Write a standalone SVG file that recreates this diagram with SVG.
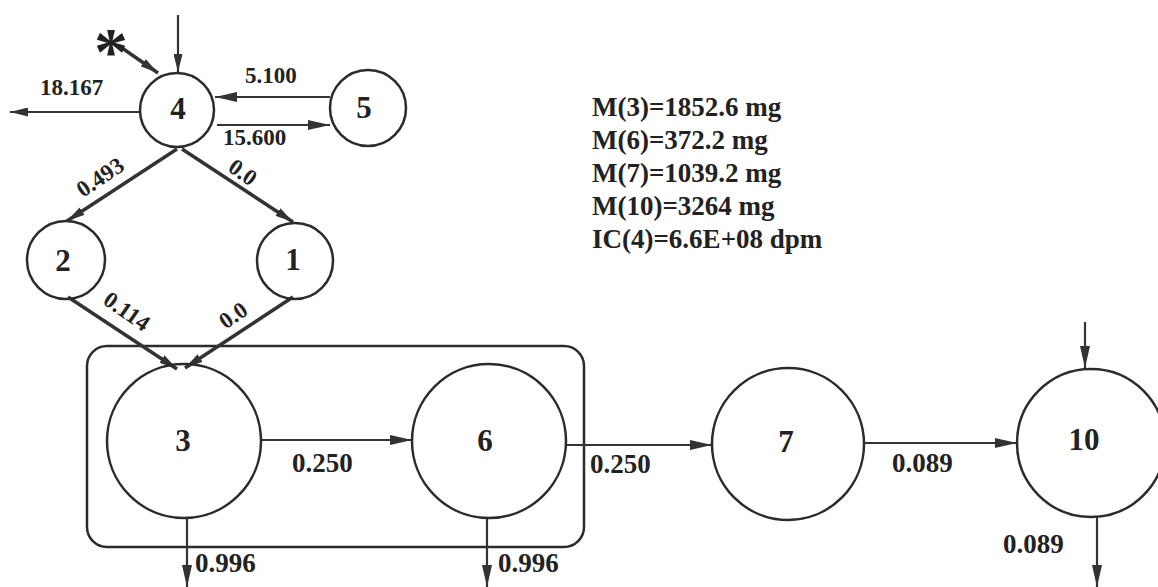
<svg xmlns="http://www.w3.org/2000/svg" width="1158" height="587" viewBox="0 0 1158 587">
<style>
.n{fill:none;stroke:#2b2b2b;stroke-width:2.5}
.t{font-family:"Liberation Serif","Times New Roman",serif;font-weight:bold;fill:#222}
.nl{font-size:31px;text-anchor:middle}
.el{font-size:27px}
.sl{font-size:23px}
.e{fill:none;stroke:#333;stroke-width:2.2}
.ed{fill:none;stroke:#333;stroke-width:3.5}
</style>
<defs>
<marker id="a" viewBox="0 0 18 9" refX="18" refY="4.5" markerWidth="18" markerHeight="9" markerUnits="userSpaceOnUse" orient="auto">
<path d="M0,0 L18,4.5 L0,9 z" fill="#333"/>
</marker>
<marker id="b" viewBox="0 0 22 10" refX="22" refY="5" markerWidth="22" markerHeight="10" markerUnits="userSpaceOnUse" orient="auto">
<path d="M0,0 L22,5 L0,10 z" fill="#333"/>
</marker>
</defs>
<rect x="87" y="346" width="497" height="201" rx="20" class="n"/>
<g id="connectors">
<line class="e" x1="178" y1="15" x2="178" y2="72" marker-end="url(#a)"/>
<line class="ed" x1="122" y1="48" x2="158" y2="73" marker-end="url(#a)"/>
<line class="e" x1="140" y1="112" x2="10" y2="112" marker-end="url(#a)"/>
<line class="e" x1="330" y1="97" x2="215" y2="97" marker-end="url(#b)"/>
<line class="e" x1="217" y1="125" x2="330" y2="125" marker-end="url(#b)"/>
<line class="ed" x1="177" y1="149" x2="67" y2="221" marker-end="url(#a)"/>
<line class="ed" x1="182" y1="149" x2="293" y2="222" marker-end="url(#a)"/>
<line class="ed" x1="68" y1="297" x2="177" y2="369" marker-end="url(#a)"/>
<line class="ed" x1="293" y1="297" x2="185" y2="368" marker-end="url(#a)"/>
<line class="e" x1="262" y1="440" x2="412" y2="440" marker-end="url(#b)"/>
<line class="e" x1="566" y1="445" x2="712" y2="445" marker-end="url(#b)"/>
<line class="e" x1="864" y1="443" x2="1017" y2="443" marker-end="url(#b)"/>
<line class="e" x1="187" y1="518" x2="187" y2="587" marker-end="url(#b)"/>
<line class="e" x1="487" y1="518" x2="487" y2="587" marker-end="url(#b)"/>
<line class="e" x1="1097" y1="517" x2="1097" y2="587" marker-end="url(#b)"/>
<line class="e" x1="1085" y1="322" x2="1085" y2="368" marker-end="url(#b)"/>
<text class="t sl" x="40" y="95">18.167</text>
<text class="t sl" x="245" y="83">5.100</text>
<text class="t sl" x="223" y="145">15.600</text>
<text class="t sl" text-anchor="middle" transform="translate(100,177) rotate(-34)" y="8">0.493</text>
<text class="t sl" text-anchor="middle" transform="translate(243,172) rotate(35)" y="8">0.0</text>
<text class="t sl" text-anchor="middle" transform="translate(127,311) rotate(35)" y="8">0.114</text>
<text class="t sl" text-anchor="middle" transform="translate(233,315) rotate(-35)" y="8">0.0</text>
<text class="t el" x="292" y="472">0.250</text>
<text class="t el" x="590" y="473">0.250</text>
<text class="t el" x="892" y="472">0.089</text>
<text class="t el" x="1003" y="553">0.089</text>
<text class="t el" x="195" y="572">0.996</text>
<text class="t el" x="498" y="572">0.996</text>
</g>
<text class="t" x="111" y="74" font-size="68" text-anchor="middle">*</text>
<g id="node4"><circle class="n" cx="177" cy="110" r="37"/><text class="t nl" x="178" y="119" font-size="27">4</text></g>
<g id="node5"><circle class="n" cx="368" cy="108" r="38"/><text class="t nl" x="364" y="118" font-size="27">5</text></g>
<g id="node2"><circle class="n" cx="66" cy="260" r="39"/><text class="t nl" x="63" y="271">2</text></g>
<g id="node1"><circle class="n" cx="295" cy="261" r="38"/><text class="t nl" x="293" y="270">1</text></g>
<g id="node3"><circle class="n" cx="184" cy="441" r="77"/><text class="t nl" x="183" y="451">3</text></g>
<g id="node6"><circle class="n" cx="489" cy="441" r="77"/><text class="t nl" x="485" y="451">6</text></g>
<g id="node7"><circle class="n" cx="788" cy="444" r="76"/><text class="t nl" x="786" y="452">7</text></g>
<g id="node10"><circle class="n" cx="1091" cy="443" r="74"/><text class="t nl" x="1084" y="450">10</text></g>
<g id="info" class="t" font-size="27">
<text x="592" y="116">M(3)=1852.6 mg</text>
<text x="592" y="149">M(6)=372.2 mg</text>
<text x="592" y="182">M(7)=1039.2 mg</text>
<text x="592" y="215">M(10)=3264 mg</text>
<text x="592" y="248">IC(4)=6.6E+08 dpm</text>
</g>
</svg>
